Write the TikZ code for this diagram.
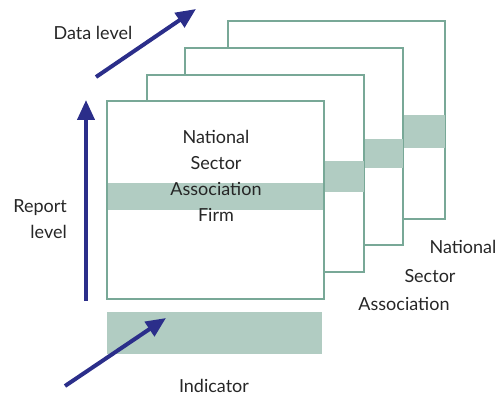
\documentclass[tikz,border=0pt]{standalone}
\usepackage{fontspec}
\setmainfont{Lato}
\usetikzlibrary{arrows.meta}
\definecolor{framecol}{HTML}{78A897}
\definecolor{bandcol}{HTML}{B1CCC2}
\definecolor{arrcol}{HTML}{2B2E8A}
\definecolor{txtcol}{HTML}{262626}
\begin{document}
\begin{tikzpicture}[x=1pt,y=-1pt,
  frame/.style={draw=framecol,line width=1.6pt,fill=white},
  band/.style={fill=bandcol},
  bigarrow/.style={draw=arrcol,line width=4pt,-{Triangle[length=20pt,width=17pt]}},
  lbl/.style={text=txtcol,font=\fontsize{18}{26}\selectfont,inner sep=0pt}]
\useasboundingbox (0,0) rectangle (499,396);
% frames back to front
\draw[frame] (228,21) rectangle (445,219);
\fill[band] (228,115) rectangle (445,148);
\draw[frame] (185,48) rectangle (403,245);
\fill[band] (185,139) rectangle (403,168);
\draw[frame] (147,75) rectangle (364,272);
\fill[band] (147,161) rectangle (364,192);
\draw[frame] (107,101) rectangle (324,299);
\fill[band] (108,183) rectangle (323,210);
% indicator band
\fill[band] (107,312) rectangle (322,354);
% texts
\node[lbl,align=center] (front) at (216,176) {National\\Sector\\Association\\Firm};
\node[lbl,align=right,anchor=east] (report) at (67,219) {Report\\level};
\node[lbl] (data) at (93,33) {Data level};
\node[lbl] (indic) at (214,386) {Indicator};
\node[lbl] (rn) at (463,247) {National};
\node[lbl] (rs) at (430,276) {Sector};
\node[lbl] (ra) at (404,304) {Association};
% arrows
\coordinate (d0) at (96,77); \coordinate (d1) at (196,9);
\coordinate (r0) at (86,301); \coordinate (r1) at (86,100);
\coordinate (i0) at (65,386); \coordinate (i1) at (166,318);
\draw[bigarrow] (d0) -- (d1);
\draw[bigarrow] (r0) -- (r1);
\draw[bigarrow] (i0) -- (i1);
\end{tikzpicture}
\end{document}
